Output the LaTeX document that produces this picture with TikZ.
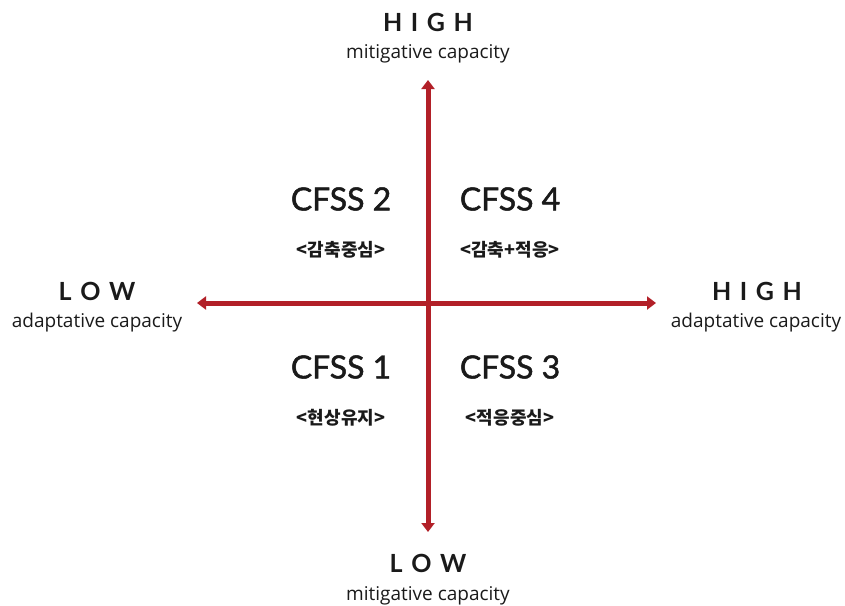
\documentclass[tikz,border=0pt]{standalone}
\usepackage{fontspec}
\setmainfont{Open Sans}
\newfontfamily\headfont[LetterSpace=10]{Lato}
\newfontfamily\cfssfont[FakeBold=1.5]{Lato}
\newfontfamily\kofont{Noto Sans CJK KR}
\usetikzlibrary{arrows.meta}
\definecolor{axisred}{HTML}{B22028}
\definecolor{txt}{HTML}{1A1A1A}
\tikzset{
  axisline/.style={draw=axisred, line width=5pt, -{Triangle[width=13pt,length=9pt]}},
  hilo/.style={font=\headfont\bfseries\fontsize{25}{25}\selectfont, text=txt, inner sep=0pt},
  subcap/.style={font=\fontsize{19}{19}\selectfont, text=txt, inner sep=0pt},
  cfss/.style={font=\cfssfont\fontsize{32}{32}\selectfont, text=txt, inner sep=0pt},
  kor/.style={font=\kofont\bfseries\fontsize{18}{18}\selectfont, text=txt, inner sep=0pt}
}
\begin{document}
\begin{tikzpicture}[x=1pt,y=-1pt]
\useasboundingbox (0,0) rectangle (845,605);
\coordinate (c) at (428,303);
\coordinate (top) at (428,80);
\coordinate (bot) at (428,532);
\coordinate (lft) at (197,303);
\coordinate (rgt) at (656,303);
\draw[axisline] (c) -- (top);
\draw[axisline] (c) -- (bot);
\draw[axisline] (c) -- (lft);
\draw[axisline] (c) -- (rgt);

\node[hilo] (th) at (428,22) {H I G H};
\node[subcap] (tc) at (428,54) {mitigative capacity};
\node[hilo] (bl) at (428,563) {L O W};
\node[subcap] (bc) at (428,596) {mitigative capacity};
\node[hilo] (ll) at (97,291) {L O W};
\node[subcap] (lc) at (97,323) {adaptative capacity};
\node[hilo] (rh) at (757,291) {H I G H};
\node[subcap] (rc) at (756,323) {adaptative capacity};

\node[cfss] (c2) at (341,199) {CFSS 2};
\node[kor] (k2) at (341,250) {<감축중심>};
\node[cfss] (c4) at (510,199) {CFSS 4};
\node[kor] (k4) at (510,250) {<감축+적응>};
\node[cfss] (c1) at (341,367) {CFSS 1};
\node[kor] (k1) at (341,418) {<현상유지>};
\node[cfss] (c3) at (510,367) {CFSS 3};
\node[kor] (k3) at (510,418) {<적응중심>};
\end{tikzpicture}
\end{document}
